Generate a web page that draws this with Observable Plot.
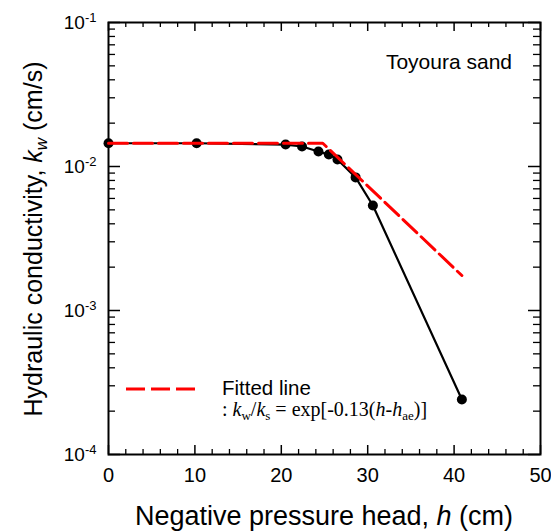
<!DOCTYPE html>
<html><head><meta charset="utf-8">
<script src="https://cdn.jsdelivr.net/npm/d3@7"></script>
<script src="https://cdn.jsdelivr.net/npm/@observablehq/plot@0.6"></script>
<style>body{margin:0;background:#fff} #chart svg{display:block}</style>
</head><body><div id="chart"></div>
<script>
// Measured data (negative pressure head h in cm, hydraulic conductivity kw in cm/s)
const headCm = [0, 10.2, 20.5, 22.4, 24.3, 25.5, 26.5, 28.6, 30.6, 40.9];
const kwCms  = [0.0145, 0.0145, 0.0142, 0.01377, 0.0127, 0.0121, 0.0112, 0.0084, 0.00536, 0.000241];
// Fitted line vertices
const fitHeadCm = [0, 24.8, 40.9];
const fitKwCms  = [0.0145, 0.0145, 0.00175];
// Ticks
const xTickValues = [0, 10, 20, 30, 40, 50];
const xMinorValues = [2,4,6,8,12,14,16,18,22,24,26,28,32,34,36,38,42,44,46,48];
const yTickValues = [1e-4, 1e-3, 1e-2, 1e-1];
const yTickExponents = ["-4", "-3", "-2", "-1"];
const yMinorMantissas = [2,3,4,5,6,7,8,9];
const yMinorDecades = [1e-4, 1e-3, 1e-2];

const yMinorValues = yMinorDecades.flatMap(d => yMinorMantissas.map(m => m * d));
const measured = headCm.map((h, i) => ({h, k: kwCms[i]}));
const fitted = fitHeadCm.map((h, i) => ({h, k: fitKwCms[i]}));

const W = 551, H = 532, ML = 108, MR = 11, MT = 22, MB = 78;
const FW = W - ML - MR, FH = H - MT - MB;
const sans = "'Liberation Sans', Arial, Helvetica, sans-serif";
const serif = "'Liberation Serif', 'Times New Roman', serif";

const plot = Plot.plot({
  width: W, height: H,
  marginLeft: ML, marginRight: MR, marginTop: MT, marginBottom: MB,
  style: {fontFamily: sans, background: "#fff", color: "#000"},
  x: {domain: [0, 50]},
  y: {type: "log", domain: [1e-4, 1e-1]},
  marks: [
    // inward ticks, x
    Plot.ruleX(xMinorValues, {x: d => d, insetTop: FH - 5, stroke: "#000", strokeWidth: 1.3}),
    Plot.ruleX(xMinorValues, {x: d => d, insetBottom: FH - 5, stroke: "#000", strokeWidth: 1.3}),
    Plot.ruleX(xTickValues, {x: d => d, insetTop: FH - 9, stroke: "#000", strokeWidth: 1.5}),
    Plot.ruleX(xTickValues, {x: d => d, insetBottom: FH - 9, stroke: "#000", strokeWidth: 1.5}),
    // inward ticks, y
    Plot.ruleY(yMinorValues, {y: d => d, insetRight: FW - 7, stroke: "#000", strokeWidth: 1.3}),
    Plot.ruleY(yMinorValues, {y: d => d, insetLeft: FW - 7, stroke: "#000", strokeWidth: 1.3}),
    Plot.ruleY(yTickValues, {y: d => d, insetRight: FW - 12, stroke: "#000", strokeWidth: 1.5}),
    Plot.ruleY(yTickValues, {y: d => d, insetLeft: FW - 12, stroke: "#000", strokeWidth: 1.5}),
    Plot.frame({stroke: "#000", strokeWidth: 2}),
    Plot.axisX({ticks: xTickValues, tickSize: 0, tickPadding: 13, fontSize: 20, label: null, tickFormat: d => String(d)}),
    Plot.axisY({ticks: yTickValues, tickSize: 0, tickPadding: 12, fontSize: 19, label: null, tickFormat: () => "10"}),
    Plot.line(measured, {x: "h", y: "k", stroke: "#000", strokeWidth: 2.2}),
    Plot.dot(measured, {x: "h", y: "k", r: 5, fill: "#000", stroke: "none"}),
    Plot.line(fitted, {x: "h", y: "k", stroke: "#ff0000", strokeWidth: 3, strokeDasharray: "19,6"})
  ]
});

document.getElementById("chart").appendChild(plot);
const svg = d3.select(plot);

// superscripts on y tick labels
svg.selectAll('g[aria-label="y-axis tick label"] text').each(function(d, i) {
  const t = d3.select(this);
  t.append("tspan").attr("dy", "-0.5em").attr("font-size", 13).text(yTickExponents[i]);
});

// x title
const xt = svg.append("text").attr("x", ML + FW / 2).attr("y", 525)
  .attr("text-anchor", "middle").attr("font-family", sans).attr("font-size", 27).attr("fill", "#000");
xt.append("tspan").text("Negative pressure head, ");
xt.append("tspan").attr("font-style", "italic").text("h");
xt.append("tspan").text(" (cm)");

// y title
const yt = svg.append("text").attr("transform", `translate(42,${MT + FH / 2 + 1}) rotate(-90)`)
  .attr("text-anchor", "middle").attr("font-family", sans).attr("font-size", 25).attr("fill", "#000");
yt.append("tspan").text("Hydraulic conductivity, ");
yt.append("tspan").attr("font-style", "italic").text("k");
yt.append("tspan").attr("font-style", "italic").attr("font-size", 17).attr("dy", 5).text("w");
yt.append("tspan").attr("dy", -5).text(" (cm/s)");

// annotation
svg.append("text").attr("x", 512).attr("y", 69).attr("text-anchor", "end")
  .attr("font-family", sans).attr("font-size", 21).attr("fill", "#000").text("Toyoura sand");

// legend
svg.append("line").attr("x1", 126).attr("x2", 195).attr("y1", 389).attr("y2", 389)
  .attr("stroke", "#ff0000").attr("stroke-width", 3).attr("stroke-dasharray", "19,6");
svg.append("text").attr("x", 222).attr("y", 395).attr("text-anchor", "start").attr("font-family", sans)
  .attr("font-size", 20.5).attr("fill", "#000").text("Fitted line");
const ft = svg.append("text").attr("x", 222).attr("y", 416).attr("text-anchor", "start").attr("font-family", serif)
  .attr("font-size", 20).attr("fill", "#000");
ft.append("tspan").text(": ");
ft.append("tspan").attr("font-style", "italic").text("k");
ft.append("tspan").attr("font-size", 13).attr("dy", 4).text("w");
ft.append("tspan").attr("dy", -4).text("/");
ft.append("tspan").attr("font-style", "italic").text("k");
ft.append("tspan").attr("font-size", 13).attr("dy", 4).text("s");
ft.append("tspan").attr("dy", -4).text(" = exp[-0.13(");
ft.append("tspan").attr("font-style", "italic").text("h");
ft.append("tspan").text("-");
ft.append("tspan").attr("font-style", "italic").text("h");
ft.append("tspan").attr("font-size", 13).attr("dy", 4).text("ae");
ft.append("tspan").attr("dy", -4).text(")]");
</script></body></html>
